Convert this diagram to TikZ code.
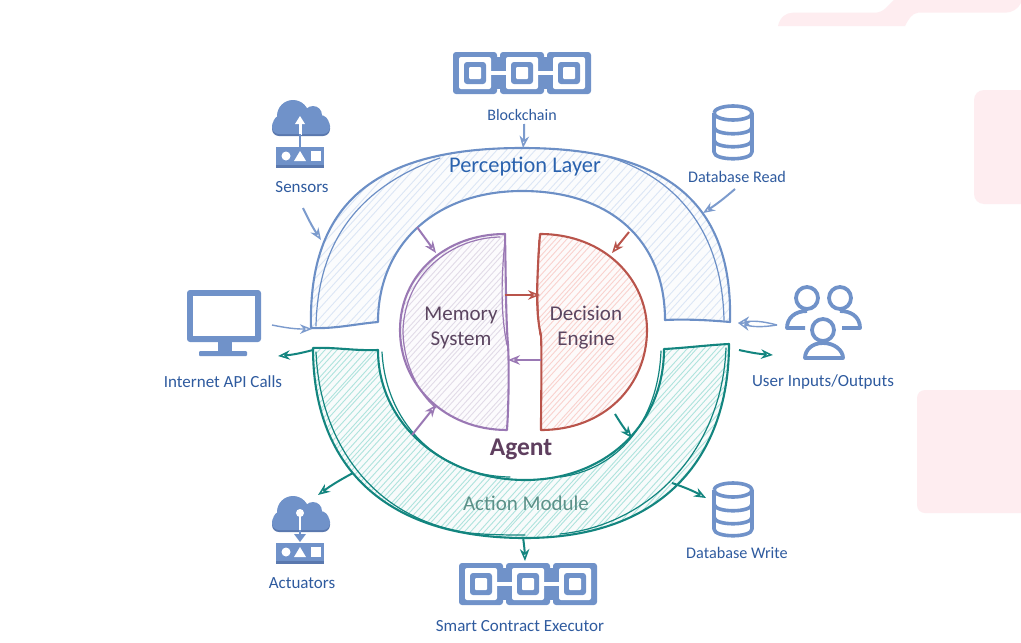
\documentclass[tikz,border=0pt]{standalone}
\usepackage{fontspec}
\setmainfont{Carlito}
\usetikzlibrary{arrows.meta}
\definecolor{pinkbg}{HTML}{FEEDF0}
\definecolor{iconblue}{HTML}{7092C9}
\definecolor{icondark}{HTML}{5A78AE}
\definecolor{labelblue}{HTML}{2F5B9F}
\definecolor{percol}{HTML}{6C8FC6}
\definecolor{perhatch}{HTML}{DCE6F5}
\definecolor{peract}{HTML}{7C9BCD}
\definecolor{actcol}{HTML}{13857F}
\definecolor{acthatch}{HTML}{AFE3DD}
\definecolor{memcol}{HTML}{9A78B4}
\definecolor{memhatch}{HTML}{E2DBE8}
\definecolor{deccol}{HTML}{B9544B}
\definecolor{dechatch}{HTML}{F9D2CE}
\definecolor{darktext}{HTML}{5B4560}
\definecolor{agenttext}{HTML}{5F3F5F}
\definecolor{acttext}{HTML}{5B9088}
\definecolor{pertext}{HTML}{2A62AE}
\newcommand{\hatchlines}[2]{%
  \foreach \c in {#2}{%
    \pgfmathsetmacro{\ja}{\c+rnd*4}%
    \pgfmathsetmacro{\jb}{\c+rnd*4}%
    \draw[#1,line width=.9pt] (\ja,560) -- (\jb+400,120);
  }}
\tikzset{
  x=1pt,y=-1pt,
  lbl/.style={font=\fontsize{17}{19}\selectfont,text=labelblue,inner sep=0pt},
  inner lbl/.style={font=\fontsize{21}{25}\selectfont,text=darktext,inner sep=0pt,align=center},
  conn/.style={line width=2pt,draw=#1,-{Stealth[length=12pt,width=9.5pt,fill=white,line width=1.5pt]}},
  thinconn/.style={line width=1.4pt,draw=#1,-{Stealth[length=12pt,width=9.5pt,fill=white,line width=1.4pt]}},
  outl/.style={line width=2.1pt,draw=#1,line join=round},
  sketch/.style={line width=1.2pt,draw=#1,line cap=round},
  blockchain/.pic={
    \foreach \u in {0,47,94}{
      \fill[iconblue,rounded corners=3pt] (\u,0) rectangle ++(44,42);
    }
    \fill[iconblue] (42,5) rectangle (49,37);
    \fill[iconblue] (89,5) rectangle (96,37);
    \foreach \u in {0,47,94}{
      \fill[white,rounded corners=2pt] (\u+6,5) rectangle ++(32,32);
    }
    \fill[white] (36,19) rectangle (55,23);
    \fill[white] (83,19) rectangle (102,23);
    \foreach \u in {0,47,94}{
      \fill[iconblue,rounded corners=3pt] (\u+11,10) rectangle ++(22,22);
      \fill[white,rounded corners=1pt] (\u+16,15) rectangle ++(12,12);
    }
  },
  cloudbox/.pic={
    \fill[icondark,rounded corners=7pt] (0,22) rectangle (58,37);
    \fill[iconblue] (21,17) circle[radius=16pt] (41,16) circle[radius=9pt]
      (10,25) circle[radius=9pt] (48,25) circle[radius=9pt];
    \fill[iconblue,rounded corners=7pt] (0,20) rectangle (58,35);
    \fill[iconblue] (4,48) rectangle (52,66);
    \fill[icondark] (4,66) rectangle (52,68.5);
    \fill[white] (14,57) circle[radius=4.5pt];
    \fill[white] (28,52) -- (34,62) -- (22,62) -- cycle;
    \fill[white] (39,52) rectangle (49,62);
  },
  database/.pic={
    \draw[iconblue,line width=3.6pt,line join=round]
      (-19,8) arc[start angle=180,end angle=-180,x radius=19pt,y radius=7pt]
      (-19,8) -- (-19,47) .. controls (-19,56) and (19,56) .. (19,47) -- (19,8)
      (-19,22) .. controls (-19,31) and (19,31) .. (19,22)
      (-19,35) .. controls (-19,44) and (19,44) .. (19,35);
  },
}
\begin{document}
\begin{tikzpicture}[x=1pt,y=-1pt]
\useasboundingbox (0,0) rectangle (1021,643);
\fill[white] (0,0) rectangle (1021,643);
\pgfmathsetseed{4242}
% background shapes
\fill[pinkbg] (778,26) .. controls (780,17) and (786,12.7) .. (793,12.7) -- (875,12.7)
  .. controls (884,12.7) and (888,5) .. (894,0) -- (1021,0) -- (1021,3)
  .. controls (1018,9) and (1012,12.7) .. (1005,12.7) -- (918,12.7)
  .. controls (912,13) and (908,20) .. (905,26) -- cycle;
\fill[pinkbg,rounded corners=10pt] (974,90) rectangle (1040,204);
\fill[pinkbg,rounded corners=8pt] (917,390) rectangle (1040,513);
% Perception layer
\begin{scope}
  \clip (311,328) .. controls (308,204) and (374,148) .. (522,148) .. controls (668,148) and (733,204) .. (730,322)
    .. controls (708,320) and (685,319) .. (665,320) .. controls (665,240) and (610,191) .. (522,191) .. controls (435,191) and (378,245) .. (378,322) .. controls (355,324) and (335,329) .. (311,328) -- cycle;
  \fill[percol!3] (250,100) rectangle (800,400);
  \hatchlines{perhatch}{-70,-62,...,520}
\end{scope}
\draw[outl=percol] (311,328) .. controls (308,204) and (374,148) .. (522,148) .. controls (668,148) and (733,204) .. (730,322)
    .. controls (708,320) and (685,319) .. (665,320) .. controls (665,240) and (610,191) .. (522,191) .. controls (435,191) and (378,245) .. (378,322) .. controls (355,324) and (335,329) .. (311,328) -- cycle;
\draw[sketch=percol] (316,326) .. controls (318,235) and (365,185) .. (440,158);
\draw[sketch=percol] (598,154) .. controls (670,172) and (722,225) .. (724,320);
% Action module
\begin{scope}
  \clip (313,348) .. controls (313,462) and (380,538) .. (525,538) .. controls (665,538) and (729,455) .. (729,344)
    .. controls (708,345) and (685,348) .. (664,349) .. controls (664,425) and (605,480) .. (525,480) .. controls (445,480) and (378,425) .. (378,350) .. controls (355,351) and (335,347) .. (313,348) -- cycle;
  \fill[actcol!3] (250,300) rectangle (800,600);
  \hatchlines{acthatch}{120,126,...,710}
\end{scope}
\draw[outl=actcol] (313,348) .. controls (313,462) and (380,538) .. (525,538) .. controls (665,538) and (729,455) .. (729,344)
    .. controls (708,345) and (685,348) .. (664,349) .. controls (664,425) and (605,480) .. (525,480) .. controls (445,480) and (378,425) .. (378,350) .. controls (355,351) and (335,347) .. (313,348) -- cycle;
\draw[sketch=actcol] (316,352) .. controls (320,445) and (375,520) .. (470,533) .. controls (490,535) and (510,535) .. (525,535);
\draw[sketch=actcol] (560,534) .. controls (650,525) and (722,450) .. (726,348);
\draw[sketch=actcol] (382,352) .. controls (386,425) and (440,476) .. (510,477);
\draw[sketch=actcol] (560,477) .. controls (615,470) and (658,425) .. (661,351);
% Memory
\begin{scope}
  \clip (505,234) .. controls (445,234) and (400,275) .. (400,330) .. controls (400,385) and (445,430) .. (507,430)
    .. controls (509,400) and (509,360) .. (508,345) .. controls (505,320) and (503,300) .. (505,234) -- cycle;
  \fill[memcol!3] (390,225) rectangle (515,440);
  \hatchlines{memhatch}{104,110,...,392}
\end{scope}
\draw[outl=memcol] (505,234) .. controls (445,234) and (400,275) .. (400,330) .. controls (400,385) and (445,430) .. (507,430)
    .. controls (509,400) and (509,360) .. (508,345) .. controls (506,320) and (506,290) .. (505,234) -- cycle;
\draw[sketch=memcol] (500,237) .. controls (450,238) and (405,275) .. (403,330) .. controls (403,365) and (420,395) .. (436,408);
\draw[sketch=memcol] (505,240) .. controls (500,290) and (502,320) .. (507,345);
% Decision
\begin{scope}
  \clip (540,234) .. controls (605,234) and (647,280) .. (647,330) .. controls (647,385) and (605,430) .. (541,430)
    .. controls (541,400) and (542,360) .. (541,335) .. controls (536,315) and (536,290) .. (540,234) -- cycle;
  \fill[deccol!3] (530,225) rectangle (655,440);
  \hatchlines{dechatch}{244,250,...,532}
\end{scope}
\draw[outl=deccol] (540,234) .. controls (605,234) and (647,280) .. (647,330) .. controls (647,385) and (605,430) .. (541,430)
    .. controls (541,400) and (542,360) .. (541,335) .. controls (536,315) and (536,290) .. (540,234) -- cycle;
\draw[sketch=deccol] (539,240) .. controls (537,275) and (537,310) .. (540,335);
% Icons
\pic (chainTop) at (453,52) {blockchain};
\pic (chainBot) at (459,563) {blockchain};
\pic (cloudTop) at (272,99) {cloudbox};
\pic (cloudBot) at (272,495) {cloudbox};
\fill[white] (298.5,121) rectangle (301.5,135);
\fill[white] (300,116) -- (305,124) -- (295,124) -- cycle;
\fill[iconblue] (299,134) rectangle (301.2,147);
\fill[white] (299,514) rectangle (301,530);
\fill[white] (300,513) circle[radius=4pt];
\fill[iconblue] (299,530) rectangle (301.2,538);
\fill[iconblue] (294,534) -- (306,534) -- (300,542) -- cycle;
\pic (dbRead) at (733,105) {database};
\pic (dbWrite) at (733,482) {database};
% Monitor
\fill[iconblue,rounded corners=3pt] (187,290) rectangle (261,342);
\fill[white] (193,296) rectangle (255,336);
\fill[iconblue] (218,342) rectangle (232,352);
\fill[iconblue,rounded corners=1pt] (199,351) rectangle (247,356);
% Users
\begin{scope}[iconblue,line width=3.8pt,line join=round]
  \draw (807,298) circle[radius=11pt] (840,298) circle[radius=11pt];
  \draw (807,311) .. controls (795,311) and (787,318) .. (787,328) -- (805,328);
  \draw (840,311) .. controls (850,311) and (860,316) .. (860,328) -- (842,328);
  \fill[white] (823,330) circle[radius=11pt];
  \draw (823,330) circle[radius=11pt];
  \fill[white] (823,343) .. controls (812,343) and (805,350) .. (805,358) -- (843,358) .. controls (843,350) and (834,343) .. (823,343);
  \draw (823,343) .. controls (812,343) and (805,350) .. (805,358) -- (843,358) .. controls (843,350) and (834,343) .. (823,343);
\end{scope}
% Labels
\node[lbl,font=\fontsize{16}{18}\selectfont] (lblChain) at (522,115) {Blockchain};
\node[lbl] (lblSensors) at (302,187) {Sensors};
\node[lbl,font=\fontsize{16.2}{18}\selectfont] (lblRead) at (737,177) {Database Read};
\node[lbl] (lblInternet) at (223,382) {Internet API Calls};
\node[lbl] (lblUsers) at (823,382) {User Inputs/Outputs};
\node[lbl] (lblAct) at (302,583) {Actuators};
\node[lbl] (lblSmart) at (520,626) {Smart Contract Executor};
\node[lbl,font=\fontsize{16.2}{18}\selectfont] (lblWrite) at (737,553) {Database Write};
\node[inner lbl,font=\fontsize{22.4}{26}\selectfont,text=pertext] (perception) at (525,167) {Perception Layer};
\node[inner lbl,text=acttext] (action) at (526,503) {Action Module};
\node[inner lbl,font=\fontsize{25.5}{28}\selectfont\bfseries,text=agenttext] (agent) at (521,449) {Agent};
\node[inner lbl] (memory) at (461,328) {Memory\\System};
\node[inner lbl] (decision) at (586,328) {Decision\\Engine};
% Connector ends
\coordinate (bcA) at (524,124); \coordinate (bcB) at (523,148);
\coordinate (seA) at (303,208); \coordinate (seB) at (321,240);
\coordinate (drA) at (735,189); \coordinate (drB) at (703,213);
\coordinate (pmA) at (417,227); \coordinate (pmB) at (436,253);
\coordinate (pdA) at (629,232); \coordinate (pdB) at (612,253);
\coordinate (mdA) at (505,295); \coordinate (mdB) at (540,295);
\coordinate (dmA) at (541,360); \coordinate (dmB) at (508,360);
\coordinate (amA) at (412,435); \coordinate (amB) at (436,405);
\coordinate (daA) at (615,414); \coordinate (daB) at (632,438);
\coordinate (inA) at (272,325); \coordinate (inB) at (312,329);
\coordinate (aiA) at (313,350); \coordinate (aiB) at (278,356);
\coordinate (usA) at (777,325); \coordinate (usB) at (738,323);
\coordinate (auA) at (739,350); \coordinate (auB) at (773,355);
\coordinate (atA) at (353,473); \coordinate (atB) at (318,495);
\coordinate (scA) at (523,537); \coordinate (scB) at (525,561);
\coordinate (dwA) at (672,483); \coordinate (dwB) at (706,498);
% Connectors
\draw[conn=peract] (bcA) to[bend left=4] (bcB);
\draw[conn=peract] (seA) to[bend right=4] (seB);
\draw[conn=peract] (drA) to[bend left=4] (drB);
\draw[conn=memcol] (pmA) -- (pmB);
\draw[conn=deccol] (pdA) -- (pdB);
\draw[conn=deccol] (mdA) -- (mdB);
\draw[conn=memcol] (dmA) -- (dmB);
\draw[conn=memcol] (amA) -- (amB);
\draw[conn=actcol] (daA) to[bend right=4] (daB);
\draw[thinconn=peract] (inA) to[bend right=6] (inB);
\draw[conn=actcol] (aiA) to[bend left=5] (aiB);
\draw[thinconn=peract] (usA) to[bend right=12] (usB);
\draw[thinconn=peract] (usA) to[bend left=12] (usB);
\draw[conn=actcol] (auA) to[bend right=4] (auB);
\draw[conn=actcol] (atA) to[bend right=4] (atB);
\draw[conn=actcol] (scA) to[bend left=3] (scB);
\draw[conn=actcol] (dwA) to[bend left=5] (dwB);
\end{tikzpicture}
\end{document}
